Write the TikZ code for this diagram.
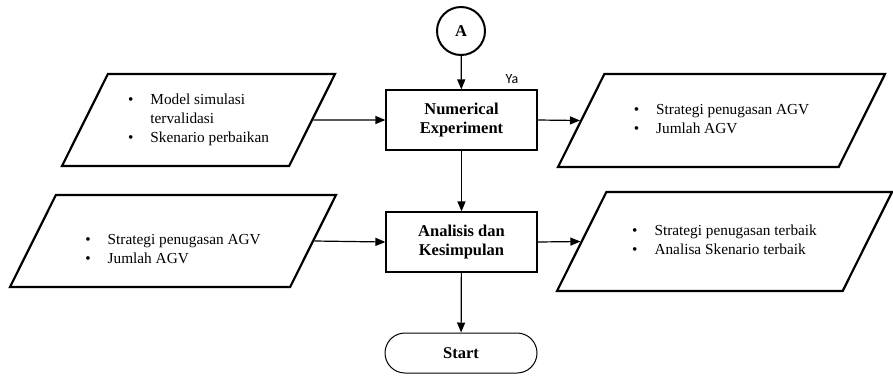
\documentclass[tikz,border=0pt]{standalone}
\usepackage{fontspec}
\setmainfont{Liberation Serif}
\newfontfamily\yafont{Carlito}
\usepackage{tikz}
\usetikzlibrary{shapes.geometric, arrows.meta, positioning}

\newcommand{\bul}{\textbullet}

\begin{document}
\begin{tikzpicture}[x=1pt,y=-1pt,
  proc/.style={draw,line width=1.2pt,minimum width=151pt,minimum height=60pt,align=center,
    font=\fontsize{16.5}{19.5}\selectfont\bfseries,inner sep=2pt},
  io/.style={draw,line width=2.2pt,trapezium,trapezium left angle=63.5,trapezium right angle=116.5,
    trapezium stretches body,inner xsep=1pt,align=left,font=\fontsize{15.3}{19}\selectfont},
  term/.style={draw,line width=1pt,rounded corners=20pt,minimum width=152pt,minimum height=40pt,
    font=\fontsize{16.5}{19.5}\selectfont\bfseries},
  conn/.style={draw,circle,line width=2pt,minimum size=48pt,inner sep=0pt,
    font=\fontsize{16.5}{19.5}\selectfont\bfseries},
  arr/.style={-{Triangle[length=10pt,width=8pt]},line width=1.2pt}]
\useasboundingbox (0,0) rectangle (893,376);

\node[conn] (conA) at (461,31) {A};
\node[proc] (numexp) at (461.5,120) {Numerical\\Experiment};
\node[proc] (analisis) at (461.5,242) {Analisis dan\\Kesimpulan};
\node[term] (start) at (461,353) {Start};

\node[io,inner ysep=17.5pt,minimum width=273pt] (in1) at (198.5,120)
  {\begin{tabular}{@{}l@{\hspace{17pt}}l@{}}\bul & Model simulasi\\ & tervalidasi\\ \bul & Skenario perbaikan\end{tabular}};
\node[io,inner ysep=27.5pt,minimum width=327pt] (out1) at (721.5,120.5)
  {\begin{tabular}{@{}l@{\hspace{17pt}}l@{}}\bul & Strategi penugasan AGV\\ \bul & Jumlah AGV\end{tabular}};
\node[io,inner ysep=17.5pt,minimum width=326pt] (in2) at (173,241)
  {\begin{tabular}{@{}l@{\hspace{17pt}}l@{}} & \\ \bul & Strategi penugasan AGV\\ \bul & Jumlah AGV\end{tabular}};
\node[io,inner ysep=30.5pt,minimum width=335pt] (out2) at (724.5,241.5)
  {\begin{tabular}{@{}l@{\hspace{17pt}}l@{}}\bul & Strategi penugasan terbaik\\ \bul & Analisa Skenario terbaik\end{tabular}};

\node[font=\yafont\fontsize{14}{16}\selectfont] (ya) at (512,79) {Ya};

\draw[arr] (conA) -- (numexp);
\draw[arr] (numexp) -- (analisis);
\draw[arr] (analisis) -- (start);
\draw[arr] (in1.east) -- (numexp.west);
\draw[arr] (numexp.east) -- (out1.west);
\draw[arr] (in2.east) -- (analisis.west);
\draw[arr] (analisis.east) -- (out2.west);
\end{tikzpicture}
\end{document}
